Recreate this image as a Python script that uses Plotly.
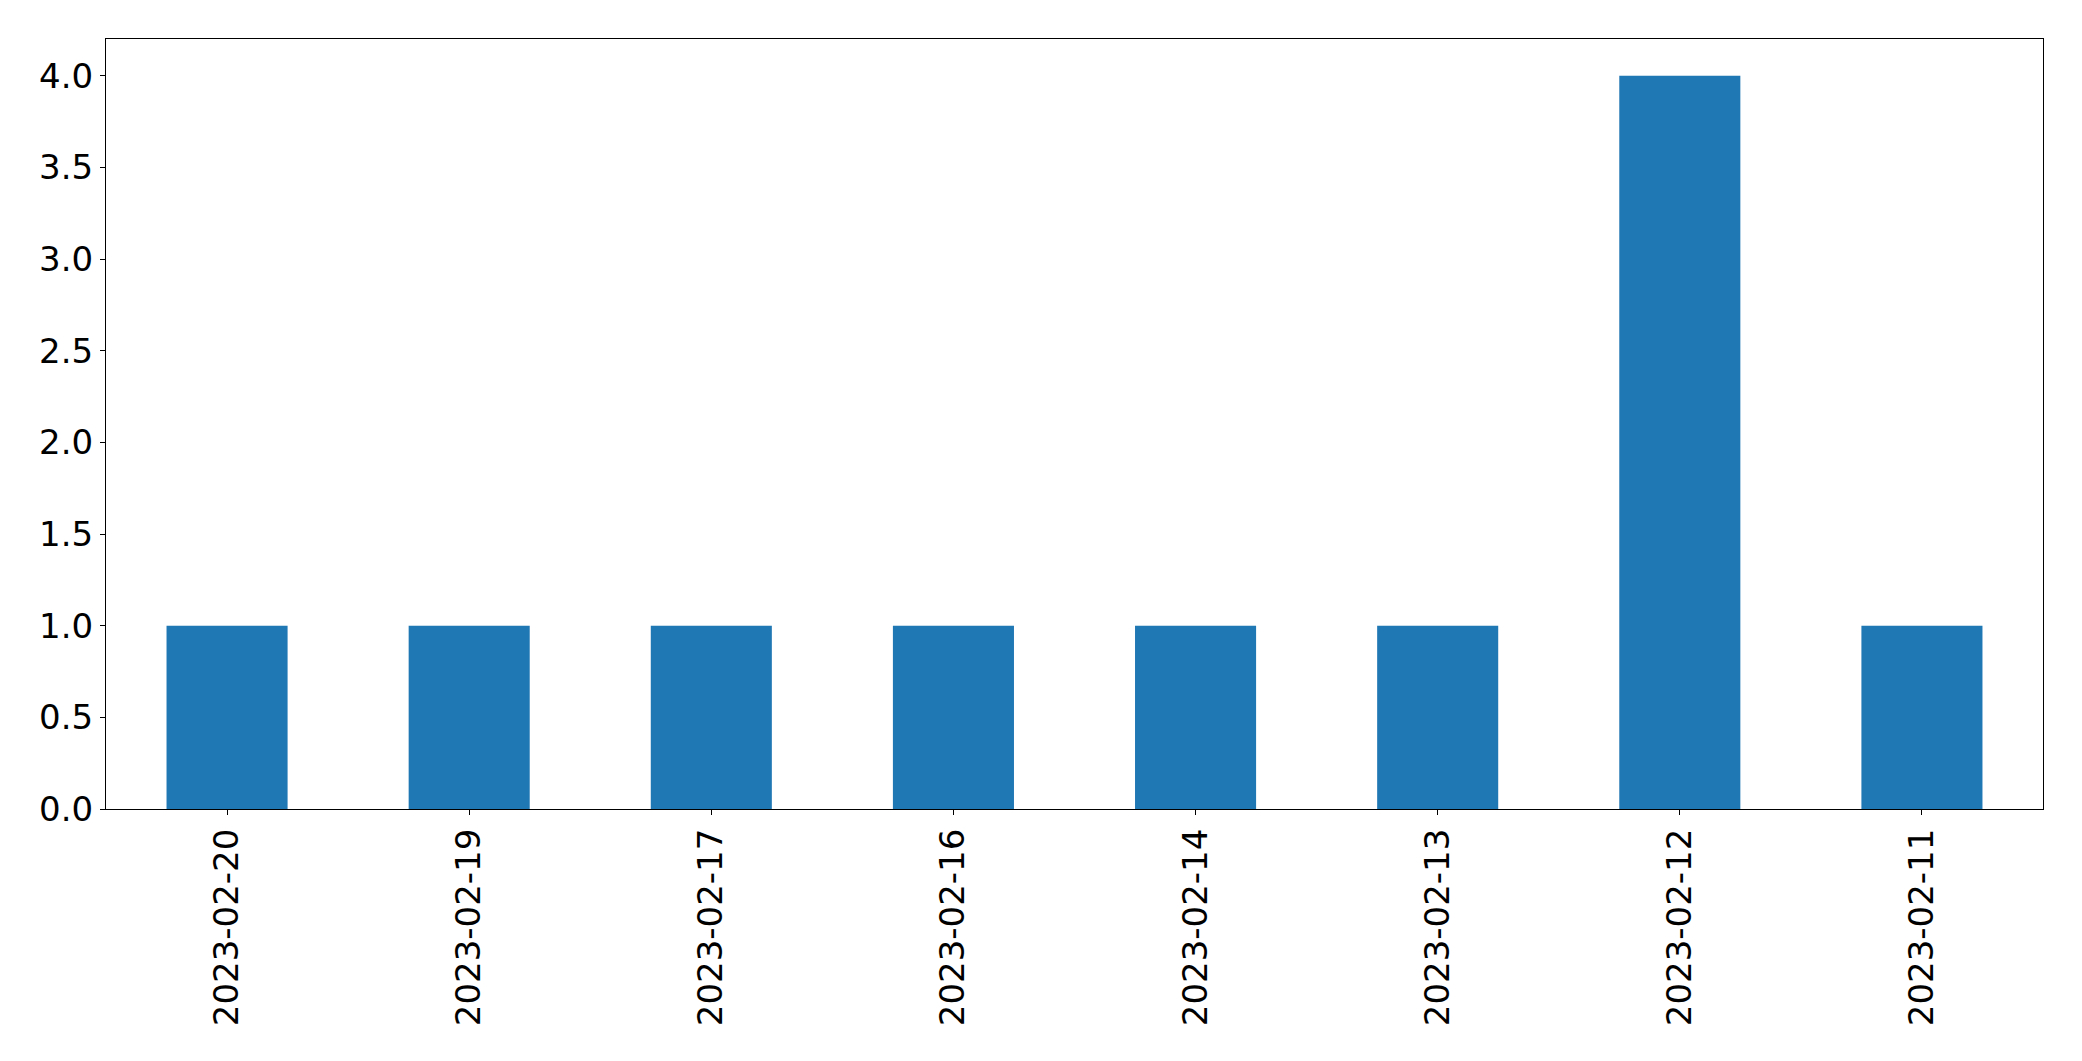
import plotly.graph_objects as go

categories = ["2023-02-20", "2023-02-19", "2023-02-17", "2023-02-16",
              "2023-02-14", "2023-02-13", "2023-02-12", "2023-02-11"]
values = [1, 1, 1, 1, 1, 1, 4, 1]
y_ticks = [0.0, 0.5, 1.0, 1.5, 2.0, 2.5, 3.0, 3.5, 4.0]
y_tick_labels = [f"{v:.1f}" for v in y_ticks]

fig = go.Figure(go.Bar(x=categories, y=values, marker=dict(color="#1f77b4", line=dict(width=0))))

font = dict(family="DejaVu Sans", size=34, color="black")
fig.update_layout(
    width=2082, height=1061,
    margin=dict(l=105.5, r=38.7, t=39.3, b=251.7),
    paper_bgcolor="white", plot_bgcolor="white",
    bargap=0.5, showlegend=False, font=font,
)
fig.update_xaxes(
    type="category", range=[-0.5, 7.5], tickangle=-90,
    showline=True, mirror=True, linecolor="black", linewidth=1.1,
    ticks="outside", ticklen=5, tickwidth=1.1, tickcolor="black",
    showgrid=False, zeroline=False, tickfont=font,
)
fig.update_yaxes(
    range=[0, 4.2], tickvals=y_ticks, ticktext=y_tick_labels,
    showline=True, mirror=True, linecolor="black", linewidth=1.1,
    ticks="outside", ticklen=5, tickwidth=1.1, tickcolor="black",
    showgrid=False, zeroline=False, tickfont=font,
)
fig.write_html(
    "out.html",
    config={"displayModeBar": False},
    post_script="document.body.style.margin='0';document.body.style.padding='0';",
)
